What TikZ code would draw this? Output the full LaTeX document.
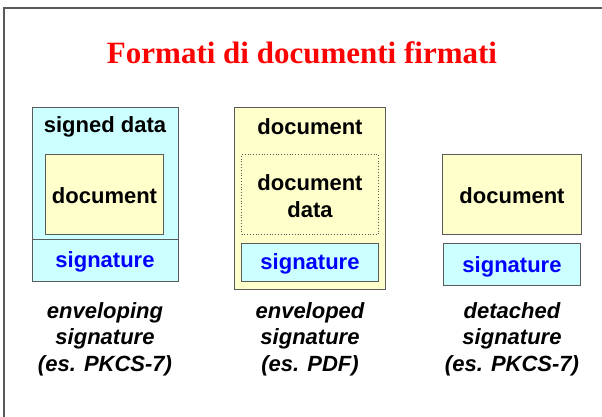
\documentclass[tikz,border=0pt]{standalone}
\usepackage{fontspec}
\setmainfont{Liberation Sans}
\newfontfamily\titlefont{Liberation Serif}

\definecolor{boxcyan}{HTML}{CCFFFF}
\definecolor{boxyellow}{HTML}{FFFFCC}
\definecolor{edgegray}{HTML}{5A5A5A}

\begin{document}
\begin{tikzpicture}[x=1pt, y=-1pt,
    panel/.style={draw=edgegray, line width=0.8pt, inner sep=0pt},
    cyanbox/.style={panel, fill=boxcyan},
    yellowbox/.style={panel, fill=boxyellow},
    boxtext/.style={font=\fontsize{22}{26.5}\selectfont\bfseries, align=center, yshift=-2pt},
    sigtext/.style={boxtext, text=blue},
    caption/.style={font=\fontsize{22}{26.5}\selectfont\bfseries\itshape, align=center}]

    \useasboundingbox (0,0) rectangle (602,417);

    % Frame of the slide
    \draw[edgegray, line width=1.5pt] (4,417) -- (4,8) -- (602,8);

    % Title
    \node[font=\titlefont\fontsize{31}{37}\selectfont\bfseries, text=red, anchor=base] (title) at (302,64) {Formati di documenti firmati};

    % Enveloping signature
    \node[cyanbox, minimum width=146pt, minimum height=174pt] (envouter) at (105,194) {};
    \node[cyanbox, minimum width=146pt, minimum height=42pt] (envsig) at (105,260) {};
    \node[yellowbox, minimum width=118pt, minimum height=80pt] (envdoc) at (104.5,194) {};
    \node[boxtext] (envhead) at (105,125) {signed data};
    \node[boxtext] at (envdoc) {document};
    \node[sigtext] at (envsig) {signature};
    \node[caption] (envcap) at (105,339) {enveloping\\signature\\(es. PKCS-7)};

    % Enveloped signature
    \node[yellowbox, minimum width=151pt, minimum height=182pt] (envdouter) at (310,198.3) {};
    \node[panel, dotted, minimum width=137pt, minimum height=80pt] (envddata) at (310,194.3) {};
    \node[cyanbox, minimum width=137pt, minimum height=38pt] (envdsig) at (310,262.2) {};
    \node[boxtext] (envdhead) at (310,124.3) {document};
    \node[boxtext] at (envddata) {document\\data};
    \node[sigtext] at (envdsig) {signature};
    \node[caption] (envdcap) at (310,339) {enveloped\\signature\\(es. PDF)};

    % Detached signature
    \node[yellowbox, minimum width=139pt, minimum height=80pt] (detdoc) at (512,194) {};
    \node[cyanbox, minimum width=137pt, minimum height=42pt] (detsig) at (512,264.5) {};
    \node[boxtext] at (detdoc) {document};
    \node[sigtext] at (detsig) {signature};
    \node[caption] (detcap) at (512,339) {detached\\signature\\(es. PKCS-7)};
\end{tikzpicture}
\end{document}
